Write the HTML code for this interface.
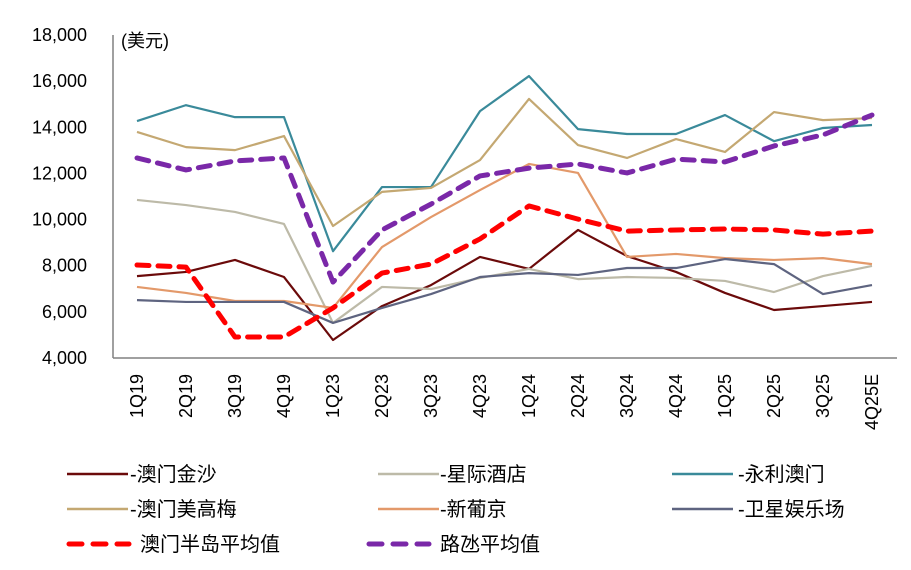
<!DOCTYPE html>
<html><head><meta charset="utf-8">
<style>
html,body{margin:0;padding:0;background:#fff;}
svg{display:block;font-family:"Liberation Sans","Noto Sans CJK SC",sans-serif;}
</style></head>
<body>
<svg id="chart" width="911" height="570" viewBox="0 0 911 570">
<g id="axes"></g><g id="series"></g><g id="legend"></g>
</svg>
<script>
const categories=["1Q19","2Q19","3Q19","4Q19","1Q23","2Q23","3Q23","4Q23","1Q24","2Q24","3Q24","4Q24","1Q25","2Q25","3Q25","4Q25E"];
const yTicks=[4000,6000,8000,10000,12000,14000,16000,18000];
const sandsChina=[7550,7730,8250,7510,4780,6250,7160,8380,7860,9550,8420,7730,6820,6080,6250,6430];
const starWorld=[10850,10630,10330,9810,5520,7080,6990,7470,7860,7420,7510,7470,7340,6860,7550,7990];
const wynnMacau=[14270,14960,14440,14440,8630,11410,11410,14700,16220,13920,13710,13710,14530,13400,13970,14100];
const mgmMacau=[13800,13140,13010,13620,9720,11200,11370,12580,15230,13230,12670,13490,12930,14660,14310,14400];
const grandLisboa=[7080,6820,6470,6470,6170,8810,10110,11280,12410,12020,8380,8510,8330,8250,8330,8070];
const satellite=[6510,6430,6430,6430,5520,6170,6770,7510,7680,7600,7900,7900,8290,8070,6770,7160];
const peninsulaAvg=[8030,7940,4910,4910,6170,7680,8070,9160,10590,10020,9500,9550,9590,9550,9370,9500];
const cotaiAvg=[12670,12150,12540,12670,7290,9550,10670,11890,12230,12410,12020,12620,12500,13190,13670,14530];

const NS="http://www.w3.org/2000/svg";
const X0=113,Y0=358,Y1=35,STEP=49,FIRST=137;
const xPos=i=>FIRST+i*STEP;
const yPos=v=>Y0-(v-4000)/14000*(Y0-Y1);
function mk(tag,attrs,parent){const e=document.createElementNS(NS,tag);for(const k in attrs)e.setAttribute(k,attrs[k]);parent.appendChild(e);return e;}
const axes=document.getElementById('axes'),ser=document.getElementById('series'),leg=document.getElementById('legend');

let l=mk('line',{x1:X0,y1:Y1,x2:X0,y2:Y0,stroke:'#808080','stroke-width':1.5},axes);


l=mk('line',{x1:X0,y1:Y0,x2:897,y2:Y0,stroke:'#808080','stroke-width':1.5},axes);


yTicks.forEach(v=>{
  const t=mk('text',{x:87,y:yPos(v)+6,'text-anchor':'end','font-size':18,fill:'#000'},axes);
  t.textContent=v.toLocaleString('en-US');
  
  
});
let u=mk('text',{x:121,y:47,'font-size':18,fill:'#000'},axes);u.textContent='(美元)';


categories.forEach((c,i)=>{
  const x=xPos(i)+6,y=374;
  const t=mk('text',{x:x,y:y,'text-anchor':'end','font-size':18,fill:'#000',transform:`rotate(-90 ${x} ${y})`},axes);
  t.textContent=c;
  
  
});

const seriesDefs=[
 {name:'-澳门金沙',data:sandsChina,color:'#6b0a0a',w:2.2,dash:null,key:'sands-china',lx:67,ly:474,tx:130},
 {name:'-星际酒店',data:starWorld,color:'#bdbaa8',w:2.2,dash:null,key:'star-world',lx:378,ly:474,tx:440},
 {name:'-永利澳门',data:wynnMacau,color:'#3a8a9a',w:2.2,dash:null,key:'wynn-macau',lx:672,ly:474,tx:738},
 {name:'-澳门美高梅',data:mgmMacau,color:'#c4a872',w:2.2,dash:null,key:'mgm-macau',lx:67,ly:509,tx:130},
 {name:'-新葡京',data:grandLisboa,color:'#e3996a',w:2.2,dash:null,key:'grand-lisboa',lx:378,ly:509,tx:440},
 {name:'-卫星娱乐场',data:satellite,color:'#5e6480',w:2.2,dash:null,key:'satellite-casinos',lx:672,ly:509,tx:738},
 {name:'澳门半岛平均值',data:peninsulaAvg,color:'#ff0000',w:5,dash:'12 9',key:'peninsula-average',lx:65,ly:544,tx:140},
 {name:'路氹平均值',data:cotaiAvg,color:'#7a28a8',w:5,dash:'12 9',key:'cotai-average',lx:365,ly:544,tx:440}
];
seriesDefs.forEach(s=>{
  const pts=s.data.map((v,i)=>xPos(i)+','+yPos(v)).join(' ');
  const a={points:pts,fill:'none',stroke:s.color,'stroke-width':s.w,'stroke-linejoin':'round'};
  if(s.dash){a['stroke-dasharray']=s.dash;a['stroke-linecap']='round';}
  const p=mk('polyline',a,ser);
  
  
  const la={x1:s.lx+(s.dash?4:0),y1:s.ly,x2:s.lx+(s.dash?64:61),y2:s.ly,stroke:s.color,'stroke-width':s.dash?5:2.5};
  if(s.dash){la['stroke-dasharray']='13 11';la['stroke-linecap']='round';}
  const ll=mk('line',la,leg);
  
  
  const t=mk('text',{x:s.tx,y:s.ly+7,'font-size':20,fill:'#000'},leg);
  t.textContent=s.name;
  
  
});
</script>
</body></html>
